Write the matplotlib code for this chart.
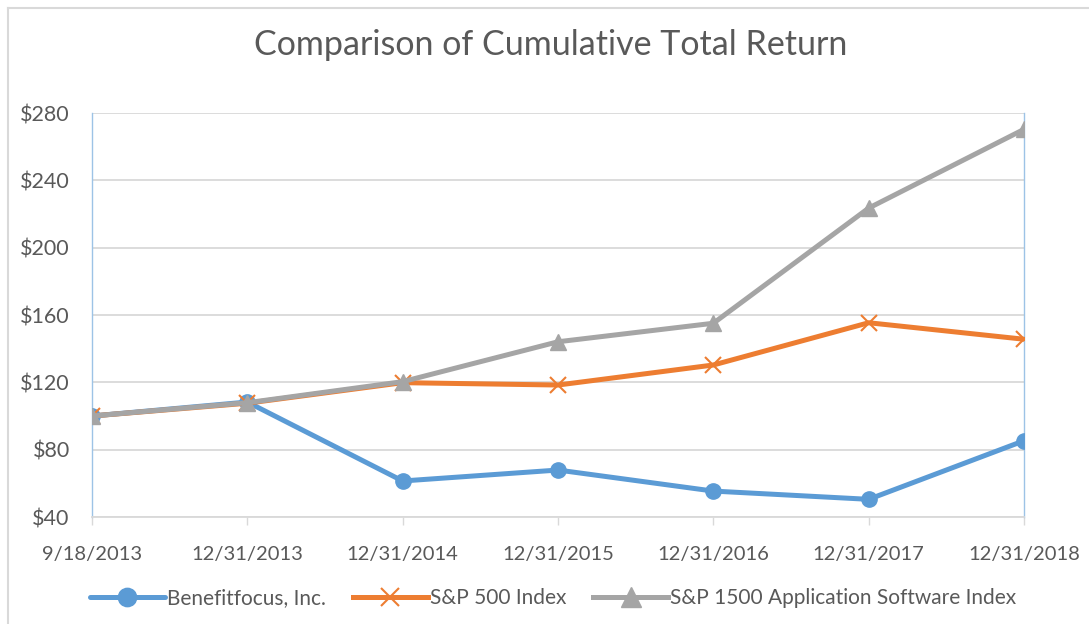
import matplotlib
matplotlib.use("Agg")
import matplotlib.pyplot as plt
from matplotlib.lines import Line2D

categories = ["9/18/2013", "12/31/2013", "12/31/2014", "12/31/2015",
              "12/31/2016", "12/31/2017", "12/31/2018"]
benefitfocus = [100.0, 108.3, 61.4, 67.9, 55.4, 50.5, 85.3]
sp500 = [100.0, 107.6, 119.8, 118.4, 130.3, 155.4, 145.6]
sp1500_app_sw = [100.0, 107.9, 120.4, 144.1, 155.1, 223.5, 270.3]
y_ticks = [40, 80, 120, 160, 200, 240, 280]

FONT = ["Lato", "DejaVu Sans"]
TXT = "#595959"
W, H = 1089, 624

fig = plt.figure(figsize=(W / 100, H / 100), dpi=100)
ax = fig.add_axes([92 / W, 1 - 517 / H, (1024 - 92) / W, (517 - 113) / H])

x = list(range(len(categories)))
ax.plot(x, benefitfocus, color="#5B9BD5", lw=3.6, marker="o", ms=11,
        solid_capstyle="round", label="Benefitfocus, Inc.", zorder=3)
ax.plot(x, sp500, color="#ED7D31", lw=3.6, marker="x", ms=11, mew=1.5,
        label="S&P 500 Index", zorder=4)
ax.plot(x, sp1500_app_sw, color="#A5A5A5", lw=3.6, marker="^", ms=12,
        label="S&P 1500 Application Software Index", zorder=5)

ax.set_xlim(0, len(categories) - 1)
ax.set_ylim(40, 280)
ax.set_yticks(y_ticks)
ax.set_yticklabels([f"${v}" for v in y_ticks], fontsize=15.5, color=TXT, family=FONT)
ax.set_xticks(x)
ax.set_xticklabels(categories, fontsize=14.5, color=TXT, family=FONT)
ax.tick_params(axis="y", length=0, pad=16)
ax.tick_params(axis="x", length=6, width=1, color="#D9D9D9", pad=15)

ax.grid(axis="y", color="#D9D9D9", lw=1.3, zorder=0)
ax.spines["top"].set_visible(False)
ax.spines["bottom"].set_color("#D9D9D9")
ax.spines["bottom"].set_linewidth(1.3)
for s in ["left", "right"]:
    ax.spines[s].set_color("#9DC3E6")
    ax.spines[s].set_linewidth(1.0)

fig.text(551 / W, 1 - 45 / H, "Comparison of Cumulative Total Return",
         ha="center", va="center", fontsize=24.5, color=TXT, family=FONT)

leg = fig.legend(loc="center", bbox_to_anchor=(553 / W, 1 - 598 / H), ncol=3,
                 frameon=False, prop={"family": FONT, "size": 15},
                 handlelength=3.6, handletextpad=0.1, columnspacing=1.3,
                 markerscale=1.2)
for t in leg.get_texts():
    t.set_color(TXT)

# outer chart border
fig.add_artist(Line2D([8 / W, 1], [1 - 7.5 / H, 1 - 7.5 / H], color="#D9D9D9", lw=1.5,
                      transform=fig.transFigure))
fig.add_artist(Line2D([8 / W, 8 / W], [0, 1 - 7.5 / H], color="#D9D9D9", lw=1.5,
                      transform=fig.transFigure))

fig.savefig("out.png", dpi=100)
